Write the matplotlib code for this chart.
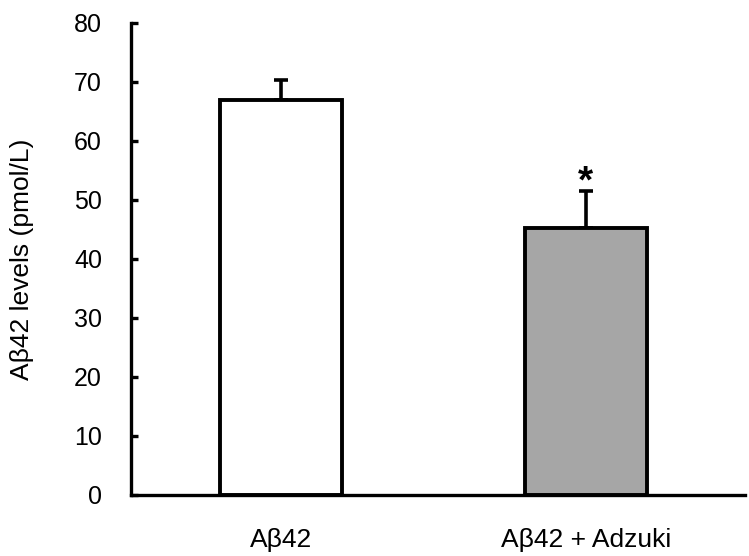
import matplotlib
matplotlib.use("Agg")
import matplotlib.pyplot as plt

categories = ["Aβ42", "Aβ42 + Adzuki"]
means = [66.9, 45.3]
errors = [3.4, 6.2]
colors = ["white", "#a6a6a6"]
yticks = [0, 10, 20, 30, 40, 50, 60, 70, 80]
ylabel = "Aβ42 levels (pmol/L)"
significance = ["", "*"]

plt.rcParams['font.family'] = ['Liberation Sans', 'DejaVu Sans']

fig = plt.figure(figsize=(7.49, 5.56), dpi=100)
ax = fig.add_axes([0.175, 0.110, 0.82, 0.849])

x = list(range(len(categories)))
ax.bar(x, means, width=0.4, color=colors, edgecolor="black", linewidth=2.8, zorder=2)
ax.errorbar(x, means, yerr=[[0]*len(means), errors], fmt="none", ecolor="black",
            elinewidth=2.6, capsize=5, capthick=2.6, zorder=1)
for xi, m, e, s in zip(x, means, errors, significance):
    if s:
        ax.text(xi, m + e + 1.45, s, ha="center", va="center", fontsize=28,
                fontweight="bold")

ax.set_xlim(-0.493, 1.524)
ax.set_ylim(0, 80)
ax.set_yticks(yticks)
ax.set_xticks(x)
ax.set_xticklabels(categories, fontsize=19)
ax.tick_params(axis="x", length=0, pad=24)
ax.tick_params(axis="y", direction="in", length=5, width=2.4, labelsize=18, pad=21)
for side in ["top", "right"]:
    ax.spines[side].set_visible(False)
for side in ["left", "bottom"]:
    ax.spines[side].set_linewidth(2.4)
ax.set_ylabel(ylabel, fontsize=19)
ax.yaxis.set_label_coords(-0.158, 0.5)

fig.savefig("out.png", dpi=100)
